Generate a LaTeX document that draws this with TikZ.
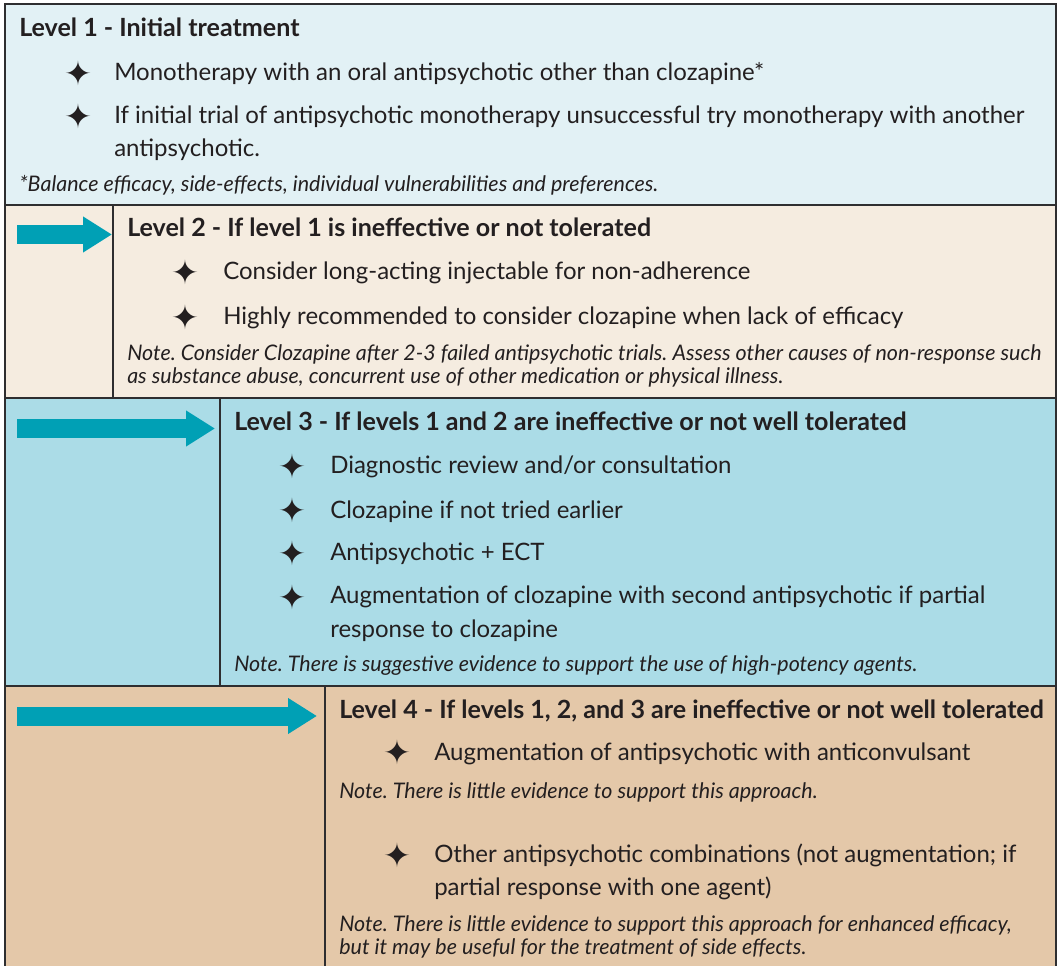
\documentclass[tikz,border=0pt]{standalone}
\usepackage{fontspec}
\setmainfont{Lato}
\newfontfamily\starfont{DejaVu Sans}
\usetikzlibrary{arrows.meta}
\frenchspacing
\definecolor{lvone}{HTML}{E2F1F5}
\definecolor{lvtwo}{HTML}{F5ECE0}
\definecolor{lvthree}{HTML}{ABDCE7}
\definecolor{lvfour}{HTML}{E4C8A9}
\definecolor{arrowteal}{HTML}{00A0B5}
\definecolor{framegray}{HTML}{2E2E30}
\definecolor{inkgray}{HTML}{231F20}
\tikzset{
  head/.style={anchor=base west, inner sep=0.75pt, align=left, text=inkgray, font=\fontsize{18.8}{20}\selectfont\bfseries},
  item/.style={anchor=base west, inner sep=0.75pt, align=left, text=inkgray, font=\fontsize{18}{24.75}\selectfont},
  note/.style={anchor=base west, inner sep=0.75pt, align=left, text=inkgray, font=\fontsize{16.1}{17.25}\selectfont\itshape},
  star/.style={inner sep=0pt, text=inkgray, font=\starfont\fontsize{25}{25}\selectfont},
  rule/.style={draw=framegray, line width=1.5pt},
  move/.style={draw=arrowteal, line width=14.25pt, -{Triangle[length=21.75pt, width=25.5pt]}}
}
\begin{document}
\begin{tikzpicture}[x=0.75pt, y=0.75pt, yscale=-1, xscale=1]
\useasboundingbox (0,0) rectangle (1058,966);
%Boxes
\draw [fill=lvone, draw=none] (5,4) rectangle (1056,205);
\draw [fill=lvtwo, draw=none] (5,205) rectangle (1056,398);
\draw [fill=lvthree, draw=none] (5,398) rectangle (1056,686);
\draw [fill=lvfour, draw=none] (5,686) rectangle (1056,966);
\draw [rule] (5,966) -- (5,4) -- (1056,4) -- (1056,966);
\draw [rule] (5,205) -- (1056,205);
\draw [rule] (5,398) -- (1056,398);
\draw [rule] (5,686) -- (1056,686);
\draw [rule] (113,205) -- (113,398);
\draw [rule] (220,398) -- (220,686);
\draw [rule] (325,686) -- (325,966);
%Arrows
\coordinate (twofrom) at (17,234.5);
\coordinate (twoto) at (112,234.5);
\coordinate (threefrom) at (17,428.5);
\coordinate (threeto) at (215,428.5);
\coordinate (fourfrom) at (17,716);
\coordinate (fourto) at (317,716);
\draw [move] (twofrom) -- (twoto);
\draw [move] (threefrom) -- (threeto);
\draw [move] (fourfrom) -- (fourto);
%Level 1
\draw (18,37) node (onehead) [head] {Level 1 - Initial treatment};
\draw (78,73) node (onestara) [star] {✦};
\draw (113,81) node (oneitema) [item] {Monotherapy with an oral antipsychotic other than clozapine*};
\draw (78,116) node (onestarb) [star] {✦};
\draw (113,157) node (oneitemb) [item] {If initial trial of antipsychotic monotherapy unsuccessful try monotherapy with another\\antipsychotic.};
\draw (18,192) node (onenote) [note] {*Balance efficacy, side-effects, individual vulnerabilities and preferences.};
%Level 2
\draw (126,237) node (twohead) [head] {Level 2 - If level 1 is ineffective or not tolerated};
\draw (185,272) node (twostara) [star] {✦};
\draw (222,280) node (twoitema) [item] {Consider long-acting injectable for non-adherence};
\draw (185,317) node (twostarb) [star] {✦};
\draw (222,325) node (twoitemb) [item] {Highly recommended to consider clozapine when lack of efficacy};
\draw (126,384) node (twonote) [note] {Note. Consider Clozapine after 2-3 failed antipsychotic trials. Assess other causes of non-response such\\as substance abuse, concurrent use of other medication or physical illness.};
%Level 3
\draw (233,431) node (threehead) [head] {Level 3 - If levels 1 and 2 are ineffective or not well tolerated};
\draw (292,466) node (threestara) [star] {✦};
\draw (329,474) node (threeitema) [item] {Diagnostic review and/or consultation};
\draw (292,510) node (threestarb) [star] {✦};
\draw (329,518) node (threeitemb) [item] {Clozapine if not tried earlier};
\draw (292,553) node (threestarc) [star] {✦};
\draw (329,561) node (threeitemc) [item] {Antipsychotic + ECT};
\draw (292,597) node (threestard) [star] {✦};
\draw (329,637) node (threeitemd) [item] {Augmentation of clozapine with second antipsychotic if partial\\response to clozapine};
\draw (233,671) node (threenote) [note] {Note. There is suggestive evidence to support the use of high-potency agents.};
%Level 4
\draw (338,718) node (fourhead) [head] {Level 4 - If levels 1, 2, and 3 are ineffective or not well tolerated};
\draw (397,752) node (fourstara) [star] {✦};
\draw (433,760) node (fouritema) [item] {Augmentation of antipsychotic with anticonvulsant};
\draw (338,798) node (fournotea) [note] {Note. There is little evidence to support this approach.};
\draw (397,855) node (fourstarb) [star] {✦};
\draw (433,895) node (fouritemb) [item] {Other antipsychotic combinations (not augmentation; if\\partial response with one agent)};
\draw (338,954) node (fournoteb) [note] {Note. There is little evidence to support this approach for enhanced efficacy,\\but it may be useful for the treatment of side effects.};
\end{tikzpicture}
\end{document}
